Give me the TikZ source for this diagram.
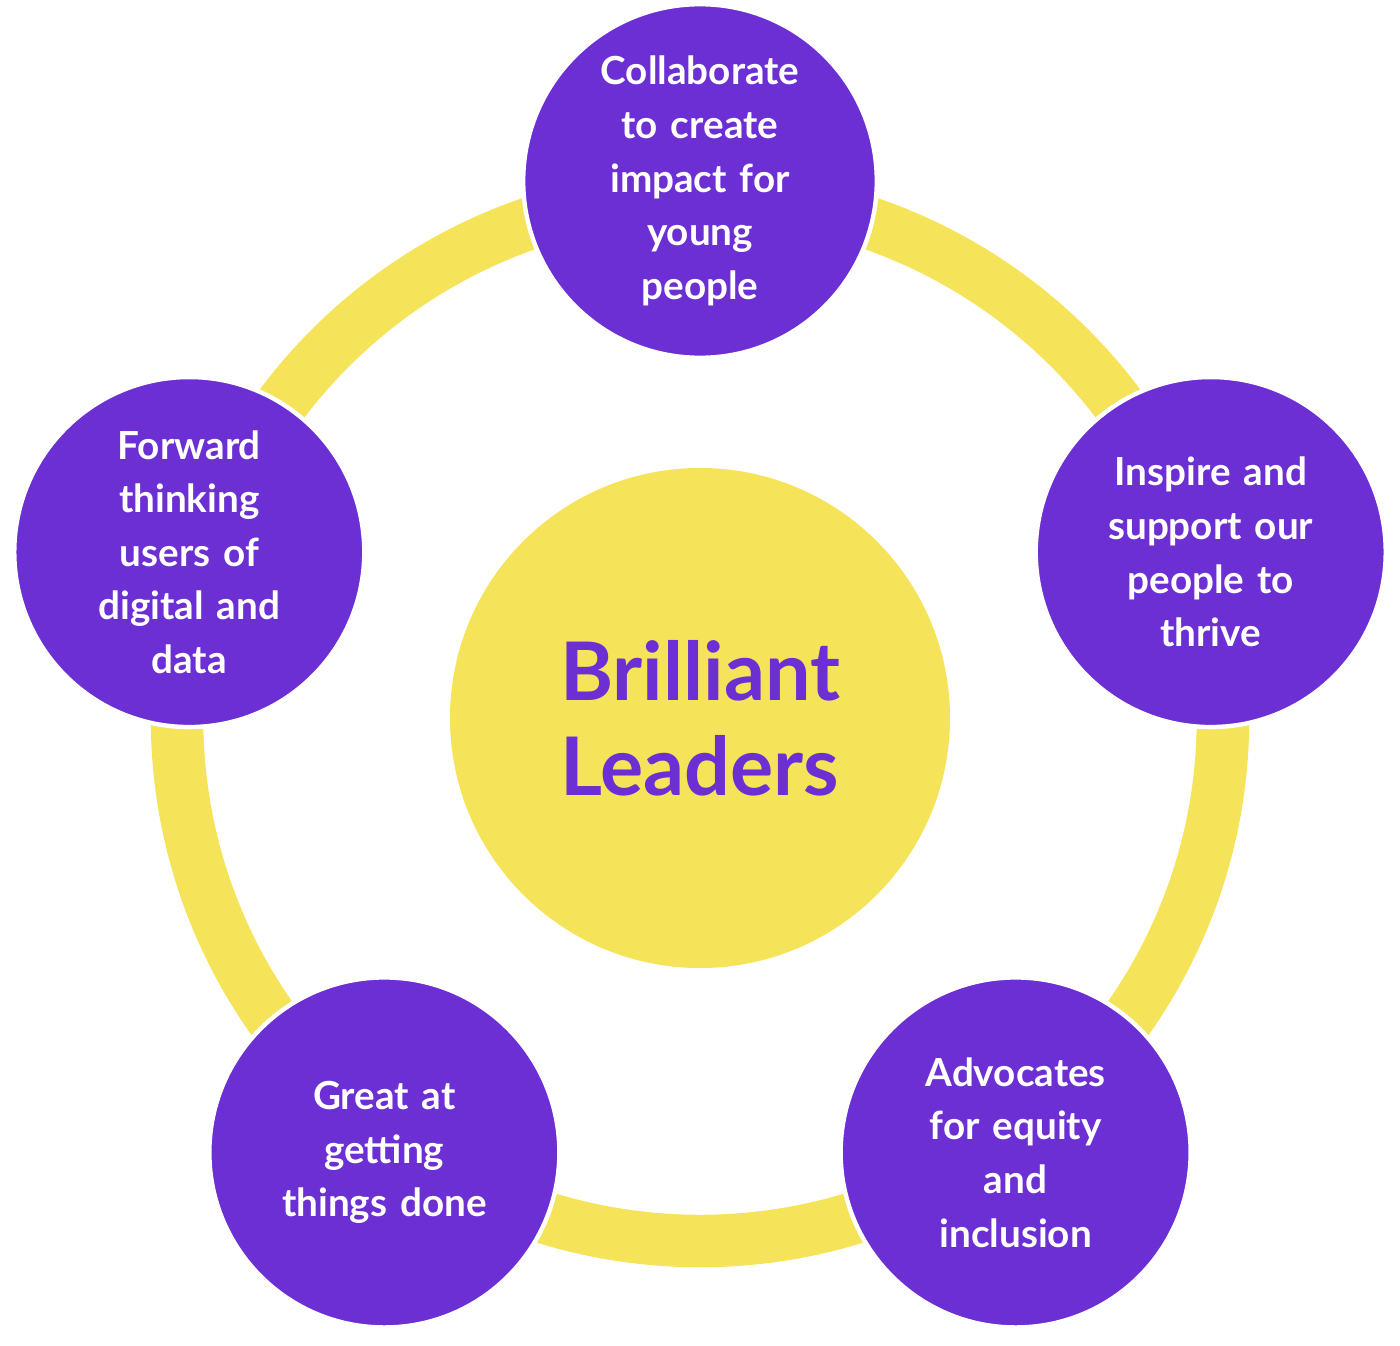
\documentclass[tikz,border=0pt]{standalone}
\usepackage{fontspec}
\setmainfont{Lato}
\usetikzlibrary{positioning}
\definecolor{leadpurple}{HTML}{6B2FD3}
\definecolor{leadyellow}{HTML}{F5E35A}
\tikzset{every picture/.style={line width=0.8pt}}
\tikzset{
  quality/.style={circle, fill=leadpurple, draw=white, line width=2.5pt,
    minimum size=7cm, inner sep=0pt, text=white, align=center, text width=5cm,
    font=\fontsize{22}{30.5}\selectfont\bfseries},
  core/.style={circle, fill=leadyellow, minimum size=10cm, inner sep=0pt,
    text=leadpurple, align=center, font=\fontsize{46}{54}\selectfont\bfseries}
}
\begin{document}
\begin{tikzpicture}
    \useasboundingbox (0,0) rectangle (28,-26.9);
    \coordinate (mid) at (14,-14.36);
    % Ring behind the qualities
    \draw[leadyellow, line width=1.05cm] (mid) circle (10.46);
    % Centre
    \node[core] (leaders) at (mid) {Brilliant\\Leaders};
    % Qualities around the ring
    \node[quality] (collab) at ([shift={(90:10.74)}]mid) {Collaborate\\to create\\impact for\\young\\people};
    \node[quality] (inspire) at ([shift={(18:10.74)}]mid) {Inspire and\\support our\\people to\\thrive};
    \node[quality] (equity) at ([shift={(-54:10.74)}]mid) {Advocates\\for equity\\and\\inclusion};
    \node[quality] (done) at ([shift={(-126:10.74)}]mid) {Great at\\getting\\things done};
    \node[quality] (digital) at ([shift={(162:10.74)}]mid) {Forward\\thinking\\users of\\digital and\\data};
\end{tikzpicture}
\end{document}
